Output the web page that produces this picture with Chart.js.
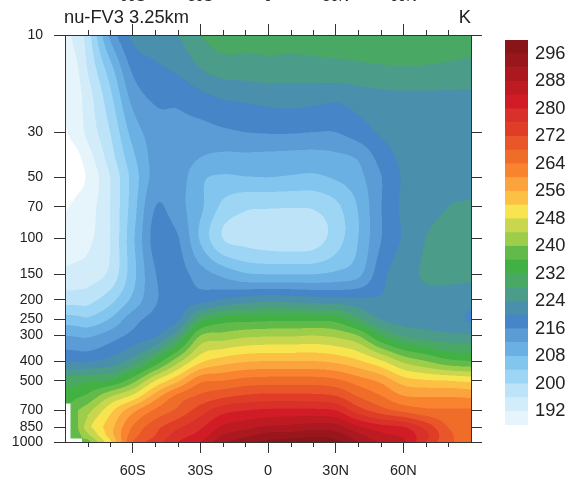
<!DOCTYPE html>
<html lang="en">
<head>
  <meta charset="UTF-8">
  <title>nu-FV3 3.25km</title>
  <script src="https://cdn.jsdelivr.net/npm/chart.js"></script>
  <style>
    body { margin: 0; background: #fff; }
    #wrap { position: relative; width: 570px; height: 481px; overflow: hidden; }
    canvas { position: absolute; }
    #main { left: 0; top: 0; }
    #bar { left: 505px; top: 40px; }
  </style>
</head>
<body>
  <div id="wrap">
    <canvas id="main" width="570" height="481"></canvas>
    <canvas id="bar" width="65" height="385"></canvas>
  </div>

  <script>
    const leftTitle = 'nu-FV3 3.25km';
    const rightTitle = 'K';
    const font = 'Liberation Sans, Arial, sans-serif';

    const latTicks = [-60, -30, 0, 30, 60];
    const latLabels = ['60S', '30S', '0', '30N', '60N'];
    const latMinor = [-80, -70, -50, -40, -20, -10, 10, 20, 40, 50, 70, 80];
    const pressureTicks = [10, 30, 50, 70, 100, 150, 200, 250, 300, 400, 500, 700, 850, 1000];

    // band edges (K) and the colour of the band starting at each edge
    const levels = [188, 192, 196, 200, 204, 208, 212, 216, 220, 224, 228, 232, 236, 240,
      244, 248, 252, 256, 260, 264, 268, 272, 276, 280, 284, 288, 292, 296];
    const colors = ['#e6f4fb', '#d3ecfa', '#bce3f8', '#9dd6f5', '#82c5ee', '#6ab0e3', '#5b9cd6', '#4585c8',
      '#4a8fab', '#4b9c88', '#49a964', '#41b143', '#62ba4b', '#9ecd4a', '#c9d74e', '#f7e44f', '#fcc044',
      '#fba33c', '#f9832f', '#ef6d29', '#e8562a', '#e03d26', '#d9302a', '#d11c26', '#bd1a22', '#ab181f',
      '#99171c', '#8a1519'];
    const barTicks = [192, 200, 208, 216, 224, 232, 240, 248, 256, 264, 272, 280, 288, 296];

    const lats = [-90, -85, -80, -70, -60, -50, -40, -30, -20, -10, 0, 10, 20, 30, 40, 50, 60, 70, 80, 90];
    const pressures = [10, 15, 20, 30, 40, 50, 70, 100, 150, 200, 250, 300, 400, 500, 600, 700, 850, 925, 1000];

    const t10 = [190.5, 193.5, 198, 213, 221, 222.5, 224, 228, 230.5, 230, 230, 230, 230, 230, 230.5, 231, 231, 230, 229.5, 229];
    const t15 = [190, 191.2, 196, 206, 216.5, 219, 220.5, 223.6, 225.5, 225.8, 226.2, 226, 226.3, 226.5, 226.8, 227.2, 227.4, 227.4, 227.2, 227];
    const t20 = [189.5, 190.5, 194, 203, 213.5, 216.8, 217, 219, 220.5, 221, 221.6, 221.8, 221.5, 221, 222, 223, 223.3, 223.3, 223.3, 223.2];
    const t30 = [187.5, 189.6, 193, 200, 209.5, 214, 214.8, 214.5, 215.3, 216, 216.3, 216.3, 216, 216, 218, 220.5, 222, 223, 223, 223];
    const t40 = [186.5, 187, 190, 198, 207, 213.5, 214.5, 212, 211, 211, 210.8, 210.5, 210.3, 211, 212.5, 217.5, 221, 222, 222.5, 222.5];
    const t50 = [186, 186.8, 188.5, 196, 205.5, 213.5, 214, 208.8, 207.5, 207.8, 208, 207.6, 207.3, 208.5, 210.8, 215.8, 220.4, 222, 222.8, 223];
    const t70 = [187.7, 188.7, 190, 196, 206, 216, 213.5, 208.8, 203, 200.6, 200.3, 200.2, 200.4, 203, 208.3, 215.8, 220.8, 222.8, 224, 224.3];
    const t100 = [189.5, 190, 191, 196, 207, 217.5, 216.3, 207.5, 200, 198.6, 197.8, 197.5, 198, 202, 208, 215.8, 220.5, 224, 224.8, 225];
    const t150 = [193, 193.5, 194, 197, 206.5, 215.8, 217.5, 214, 211, 208.5, 208, 208, 208, 209, 211, 218.5, 222.5, 224.4, 224.8, 224.8];
    const t200 = [198.3, 198.3, 198.5, 202.5, 209, 215.5, 218, 218.5, 220.5, 222, 223, 222.5, 222, 221.5, 221, 220.5, 222, 223, 222.5, 221.5];
    const t250 = [206, 205.5, 204.8, 208.4, 214.4, 217.5, 219.5, 230, 234, 234.5, 235, 235, 235, 234.5, 229, 224, 222.5, 222.5, 221.5, 219.5];
    const t300 = [212, 211.6, 211.3, 213.9, 217.2, 219.5, 226.7, 240, 241.5, 243, 243.5, 243.5, 244, 243, 240, 232, 227.5, 226, 225, 224.5];
    const t400 = [219.8, 219.6, 219.5, 221.5, 225.6, 233, 242.5, 251, 254, 255.5, 256, 256, 256, 255, 252.5, 248.5, 243, 240, 237, 236];
    const t500 = [230, 230.5, 231.5, 232.3, 238.4, 248, 255.3, 263, 264, 265.5, 266, 266, 266, 265, 262, 259, 254, 252.5, 252, 251];
    const t600 = [234, 235.5, 237, 244, 249.5, 258.3, 265.5, 269, 271.5, 273, 273.7, 273.7, 273.5, 272.5, 268, 264.5, 260.5, 260, 260, 259.5];
    const t700 = [null, 239.5, 242.5, 250.7, 258.7, 264.7, 268.9, 274, 278.5, 280, 280.8, 281, 281, 280, 274, 270, 267, 265, 264.5, 264.5];
    const t850 = [null, 239, 246.5, 254.5, 264.5, 270.7, 275.4, 279.5, 285, 287, 289, 289.5, 290.5, 290, 285, 282, 280.5, 275, 268, 266];
    const t925 = [null, 238, 243, 254, 266, 272, 278, 281.5, 288, 291, 293.5, 294, 295, 294, 289, 285, 283, 277, 269, 266];
    const t1000 = [null, null, 238, 251, 268, 274, 280, 284, 291, 294.5, 297, 298, 298.5, 297.5, 292, 287.5, 285, 276, 269, 266];
    const temps = [t10, t15, t20, t30, t40, t50, t70, t100, t150, t200, t250, t300, t400, t500, t600, t700, t850, t925, t1000];

    // one scatter point per grid node, the plugin below shades between them
    const nodes = [];
    pressures.forEach((p, j) => lats.forEach((lat, i) => nodes.push({ x: lat, y: p, v: temps[j][i] })));

    const logP = pressures.map(p => Math.log10(p));

    function hexRgb(h) {
      return [parseInt(h.slice(1, 3), 16), parseInt(h.slice(3, 5), 16), parseInt(h.slice(5, 7), 16)];
    }
    const rgb = colors.map(hexRgb);

    function bandColor(v) {
      if (v < levels[0]) return [255, 255, 255];
      const k = Math.floor((v - levels[0]) / 4);
      return rgb[Math.min(k, rgb.length - 1)];
    }

    function findCell(list, v) {
      let i = 0;
      while (i < list.length - 2 && v > list[i + 1]) i++;
      return i;
    }

    // cubic through the nodes, so the band edges come out round like a real contour plot
    function hermite(coords, vals, i, x) {
      const n = coords.length;
      const x0 = coords[i], x1 = coords[i + 1], h = x1 - x0;
      const t = Math.min(1, Math.max(0, (x - x0) / h));
      const v0 = vals[i], v1 = vals[i + 1];
      const m0 = i > 0 ? (v1 - vals[i - 1]) / (x1 - coords[i - 1]) : (v1 - v0) / h;
      const m1 = i + 2 < n ? (vals[i + 2] - v0) / (coords[i + 2] - x0) : (v1 - v0) / h;
      const t2 = t * t, t3 = t2 * t;
      return (2 * t3 - 3 * t2 + 1) * v0 + (t3 - 2 * t2 + t) * h * m0 + (3 * t2 - 2 * t3) * v1 + (t3 - t2) * h * m1;
    }

    function sample(lat, p) {
      const lp = Math.log10(p);
      const i = findCell(lats, lat);
      const j = findCell(logP, lp);
      const fx = Math.min(1, Math.max(0, (lat - lats[i]) / (lats[i + 1] - lats[i])));
      const fy = Math.min(1, Math.max(0, (lp - logP[j]) / (logP[j + 1] - logP[j])));
      // below ground: nearest node has no value
      if (temps[fy < 0.5 ? j : j + 1][fx < 0.5 ? i : i + 1] === null) return null;
      // the cubic only works with a full neighbourhood
      let full = true;
      for (let b = Math.max(0, j - 1); b <= Math.min(temps.length - 1, j + 2); b++) {
        for (let a = Math.max(0, i - 1); a <= Math.min(lats.length - 1, i + 2); a++) {
          if (temps[b][a] === null) full = false;
        }
      }
      if (full) {
        const across = temps.map((row, b) => (b >= j - 1 && b <= j + 2) ? hermite(lats, row, i, lat) : 0);
        return hermite(logP, across, j, lp);
      }
      const corners = [[temps[j][i], (1 - fx) * (1 - fy)], [temps[j][i + 1], fx * (1 - fy)],
        [temps[j + 1][i], (1 - fx) * fy], [temps[j + 1][i + 1], fx * fy]];
      let sum = 0, w = 0;
      corners.forEach(c => { if (c[0] !== null) { sum += c[0] * c[1]; w += c[1]; } });
      return sum / w;
    }

    const contourFill = {
      id: 'contourFill',
      beforeDraw(chart) {
        const area = chart.chartArea;
        const xs = chart.scales.x, ys = chart.scales.y;
        const ss = 2;
        const w = Math.round(area.right - area.left) * ss;
        const h = Math.round(area.bottom - area.top) * ss;
        const off = document.createElement('canvas');
        off.width = w; off.height = h;
        const octx = off.getContext('2d');
        const img = octx.createImageData(w, h);
        for (let py = 0; py < h; py++) {
          const p = ys.getValueForPixel(area.top + (py + 0.5) / ss);
          for (let px = 0; px < w; px++) {
            const lat = xs.getValueForPixel(area.left + (px + 0.5) / ss);
            const v = sample(lat, p);
            const c = v === null ? [255, 255, 255] : bandColor(v);
            const n = (py * w + px) * 4;
            img.data[n] = c[0]; img.data[n + 1] = c[1]; img.data[n + 2] = c[2]; img.data[n + 3] = 255;
          }
        }
        octx.putImageData(img, 0, 0);
        chart.ctx.save();
        chart.ctx.imageSmoothingEnabled = true;
        chart.ctx.drawImage(off, area.left, area.top, w / ss, h / ss);
        chart.ctx.restore();
      }
    };

    const frameExtras = {
      id: 'frameExtras',
      afterDraw(chart) {
        const ctx = chart.ctx, area = chart.chartArea, xs = chart.scales.x;
        ctx.save();
        ctx.strokeStyle = '#333';
        ctx.lineWidth = 1;
        latMinor.forEach(lat => {
          const px = Math.round(xs.getPixelForValue(lat)) + 0.5;
          ctx.beginPath();
          ctx.moveTo(px, area.top); ctx.lineTo(px, area.top - 5);
          ctx.moveTo(px, area.bottom); ctx.lineTo(px, area.bottom + 5);
          ctx.stroke();
        });
        ctx.fillStyle = '#222';
        ctx.font = '18.3px ' + font;
        ctx.textBaseline = 'alphabetic';
        ctx.textAlign = 'left';
        ctx.fillText(leftTitle, area.left - 1, 23);
        ctx.textAlign = 'right';
        ctx.fillText(rightTitle, area.right, 23);
        ctx.restore();
      }
    };

    function latAxis(position, padding, size) {
      return {
        type: 'linear', position: position, min: -90, max: 90,
        afterBuildTicks: s => { s.ticks = latTicks.map(v => ({ value: v })); },
        afterFit: s => { s.height = size; },
        ticks: {
          autoSkip: false, maxRotation: 0, padding: padding, color: '#222',
          font: { family: font, size: 14.5 },
          callback: v => latLabels[latTicks.indexOf(v)]
        },
        grid: { drawOnChartArea: false, tickLength: 11, tickColor: '#333' },
        border: { color: '#333' }
      };
    }

    function pressureAxis(position, size, showLabels) {
      return {
        type: 'logarithmic', position: position, reverse: true, min: 10, max: 1000,
        afterBuildTicks: s => { s.ticks = pressureTicks.map(v => ({ value: v })); },
        afterFit: s => { s.width = size; },
        ticks: {
          display: showLabels, autoSkip: false, padding: 11, color: '#222',
          font: { family: font, size: 14 },
          callback: v => String(v)
        },
        grid: { drawOnChartArea: false, tickLength: 11, tickColor: '#333' },
        border: { color: '#333' }
      };
    }

    new Chart(document.getElementById('main'), {
      type: 'scatter',
      data: { datasets: [{ label: 'T', data: nodes, pointRadius: 0, showLine: false }] },
      options: {
        responsive: false,
        animation: false,
        layout: { padding: 0 },
        plugins: { legend: { display: false }, tooltip: { enabled: false } },
        scales: {
          x: latAxis('bottom', 9, 39),
          x2: latAxis('top', 18, 35),
          y: pressureAxis('left', 65, true),
          y2: pressureAxis('right', 99, false)
        }
      },
      plugins: [contourFill, frameExtras]
    });

    new Chart(document.getElementById('bar'), {
      type: 'bar',
      data: {
        labels: ['K'],
        datasets: levels.map((lv, k) => ({
          data: [[lv, lv + 4]], backgroundColor: colors[k], borderWidth: 0,
          barPercentage: 1, categoryPercentage: 1, grouped: false
        }))
      },
      options: {
        responsive: false,
        animation: false,
        layout: { padding: 0 },
        plugins: { legend: { display: false }, tooltip: { enabled: false } },
        scales: {
          x: { display: false },
          y: {
            position: 'right', min: 188, max: 300,
            afterBuildTicks: s => { s.ticks = barTicks.map(v => ({ value: v })); },
            afterFit: s => { s.width = 42; s.paddingTop = 0; s.paddingBottom = 0; },
            ticks: { padding: 7, color: '#222', font: { family: font, size: 18.3 } },
            grid: { display: false, drawTicks: false },
            border: { display: false }
          }
        }
      }
    });
  </script>
</body>
</html>
